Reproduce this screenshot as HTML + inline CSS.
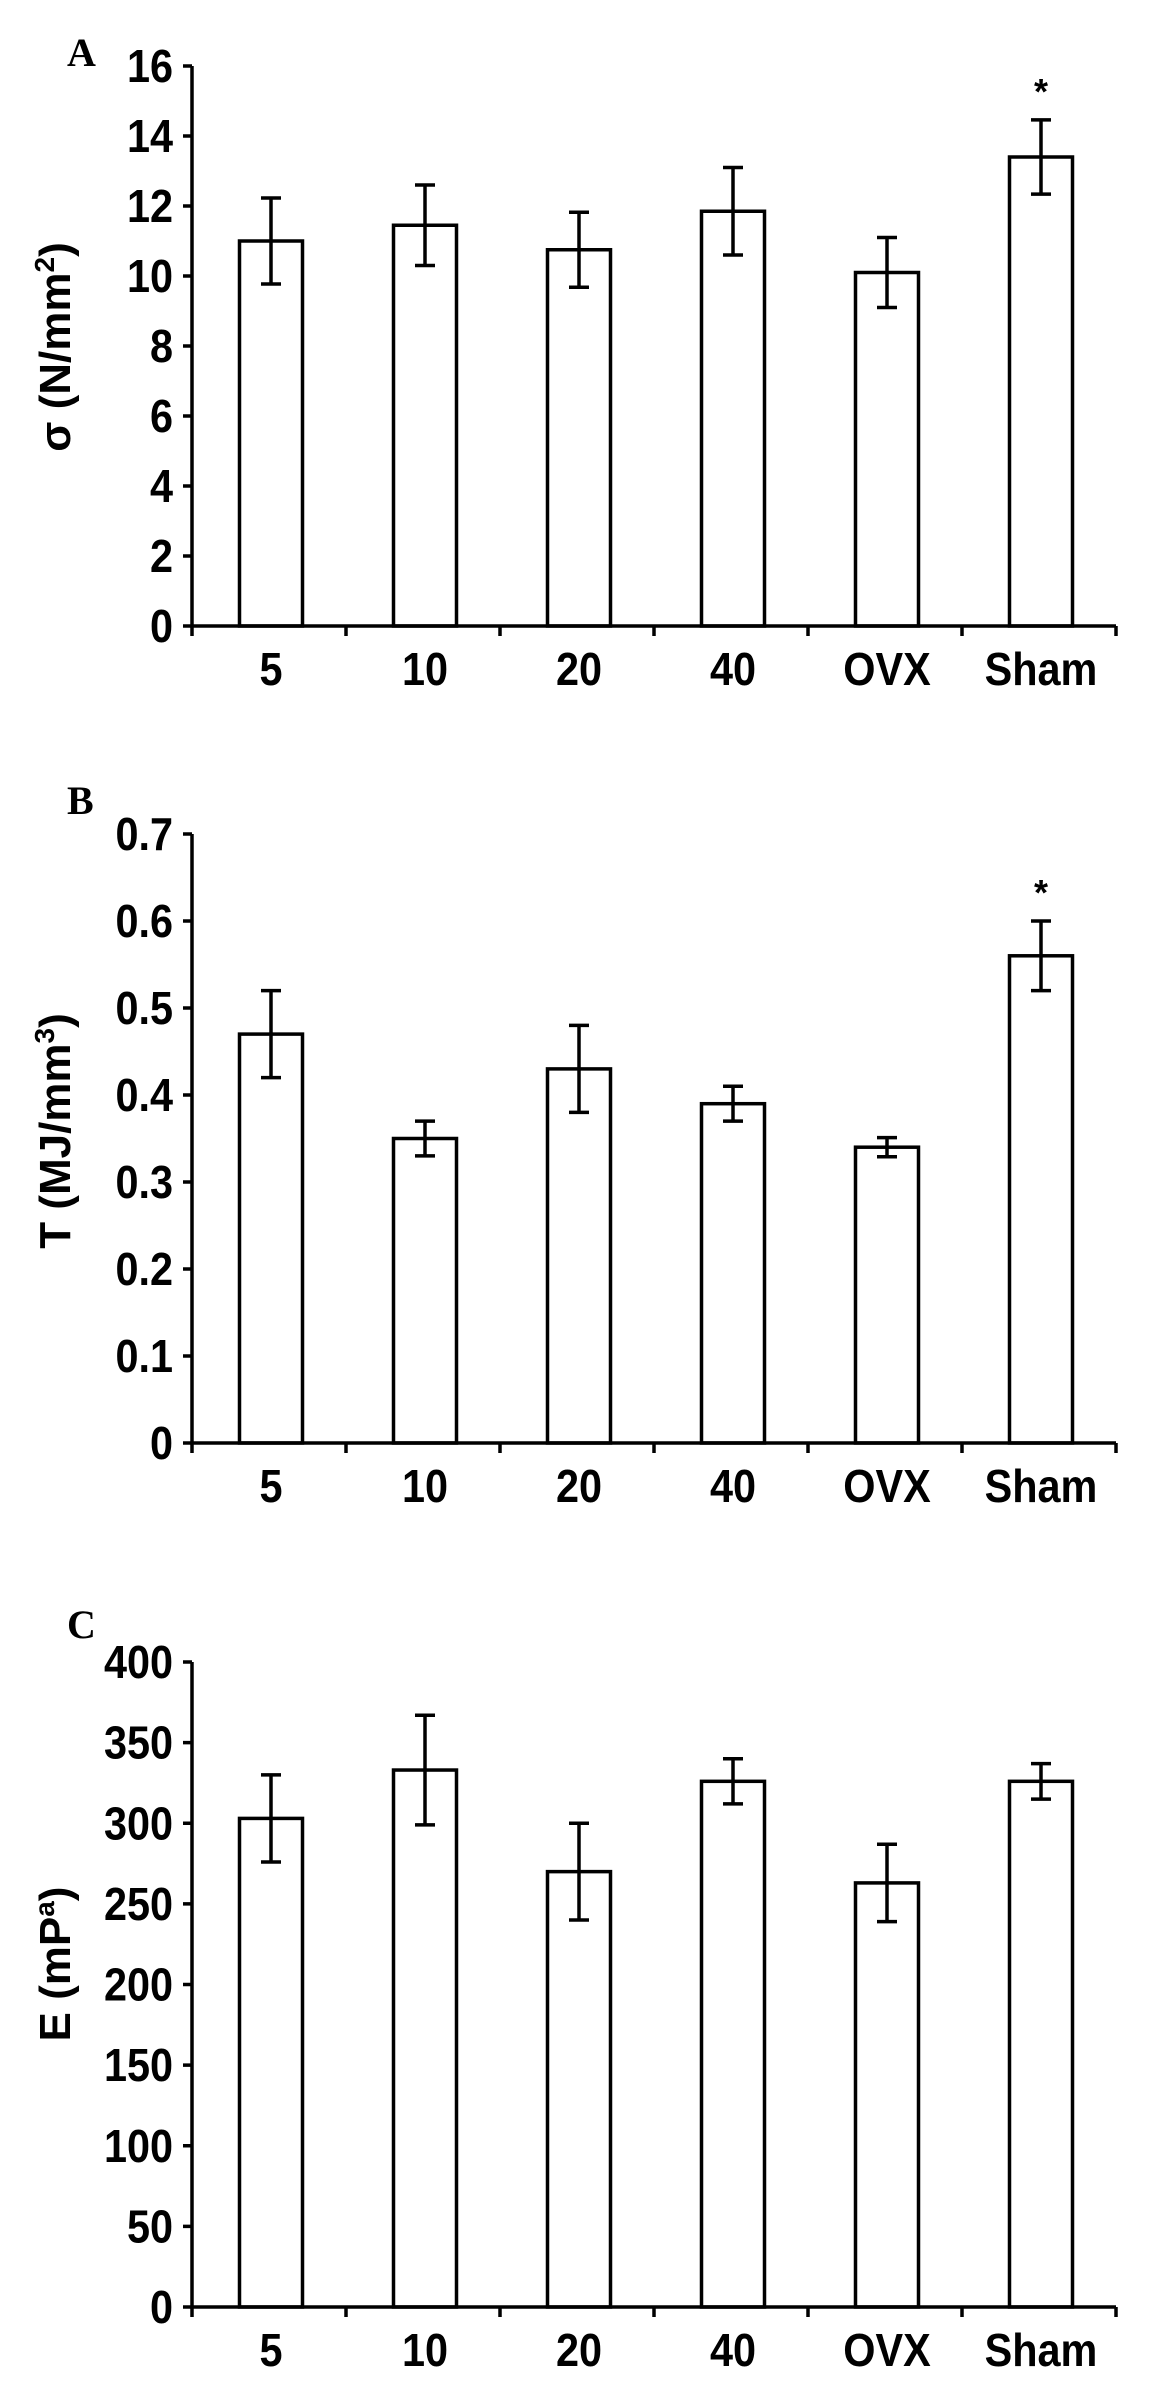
<!DOCTYPE html>
<html><head><meta charset="utf-8"><style>
html,body{margin:0;padding:0;background:#fff;}
svg{display:block;}
text{font-family:"Liberation Sans",Arial,sans-serif;font-weight:bold;fill:#000;}
.pl{font-family:"Liberation Serif",serif;font-weight:bold;}
</style></head><body>
<svg id="fig" width="1156" height="2392" viewBox="0 0 1156 2392" xmlns="http://www.w3.org/2000/svg"></svg>
<script>
const categories = ["5","10","20","40","OVX","Sham"];
const aValues = [11.0, 11.45, 10.75, 11.85, 10.1, 13.4];
const aErrors = [1.23, 1.15, 1.07, 1.25, 1.0, 1.06];
const aTicks = [0,2,4,6,8,10,12,14,16];
const aTickLabels = ["0","2","4","6","8","10","12","14","16"];
const bValues = [0.47, 0.35, 0.43, 0.39, 0.34, 0.56];
const bErrors = [0.05, 0.02, 0.05, 0.02, 0.011, 0.04];
const bTicks = [0,0.1,0.2,0.3,0.4,0.5,0.6,0.7];
const bTickLabels = ["0","0.1","0.2","0.3","0.4","0.5","0.6","0.7"];
const cValues = [303, 333, 270, 326, 263, 326];
const cErrors = [27, 34, 30, 14, 24, 11];
const cTicks = [0,50,100,150,200,250,300,350,400];
const cTickLabels = ["0","50","100","150","200","250","300","350","400"];
const aSig = [false,false,false,false,false,true];
const bSig = [false,false,false,false,false,true];
const cSig = [false,false,false,false,false,false];

const NS="http://www.w3.org/2000/svg";
const svg=document.getElementById('fig');
function mk(tag,attrs,parent){const e=document.createElementNS(NS,tag);for(const k in attrs)e.setAttribute(k,attrs[k]);(parent||svg).appendChild(e);return e;}

function panel(cfg){
  const g=mk('g',{});
  
  
  const x0=192, cw=154, bw=63;
  const y=v=>cfg.yBot-(v-cfg.min)/(cfg.max-cfg.min)*(cfg.yBot-cfg.yTop);
  const xc=i=>x0+79+cw*i;
  const pl=mk('text',{x:67,y:cfg.letterY,'font-size':40,class:'pl'},g);
  pl.textContent=cfg.letter;
  
  
  cfg.values.forEach((v,i)=>{
    const r=mk('rect',{x:xc(i)-bw/2,y:y(v),width:bw,height:cfg.yBot-y(v),fill:'#fff',stroke:'#000','stroke-width':3.5},g);
    
    
    const e=cfg.errors[i];
    const p=mk('path',{d:`M${xc(i)},${y(v+e)}V${y(v-e)}M${xc(i)-10},${y(v+e)}h20M${xc(i)-10},${y(v-e)}h20`,stroke:'#000','stroke-width':3.5,fill:'none'},g);
    
    
    if(cfg.sig[i]){
      const s=mk('text',{x:xc(i),y:y(v+e)-16,'font-size':36,'text-anchor':'middle'},g);
      s.textContent='*';
      
      
    }
  });
  const ax=mk('path',{d:`M${x0},${cfg.yTop}V${cfg.yBot}H${x0+cw*6}`,stroke:'#000','stroke-width':3.5,fill:'none'},g);
  
  
  cfg.ticks.forEach((t,i)=>{
    const tk=mk('path',{d:`M${x0-9},${y(t)}H${x0}`,stroke:'#000','stroke-width':3.5},g);
    
    
    const tx=mk('text',{transform:`translate(173,${y(t)+16}) scale(0.9,1)`,'font-size':46,'text-anchor':'end'},g);
    tx.textContent=cfg.tickLabels[i];
    
    
  });
  for(let i=0;i<=6;i++){
    const tk=mk('path',{d:`M${x0+cw*i},${cfg.yBot}v10`,stroke:'#000','stroke-width':3.5},g);
    
    
  }
  categories.forEach((c,i)=>{
    const tx=mk('text',{transform:`translate(${xc(i)},${cfg.yBot+59}) scale(0.9,1)`,'font-size':46,'text-anchor':'middle'},g);
    tx.textContent=c;
    
    
  });
  const yt=mk('text',{transform:`translate(70,${cfg.titleY}) rotate(-90)`,'font-size':44,'text-anchor':'middle'},g);
  
  
  yt.appendChild(document.createTextNode(cfg.title[0]));
  const sup=mk('tspan',{'font-size':28,dy:-16},yt);
  sup.textContent=cfg.title[1];
  const tail=mk('tspan',{dy:16},yt);
  tail.textContent=cfg.title[2];
}

panel({name:'panel-a-chart',letter:'A',letterY:66,yTop:66,yBot:626,min:0,max:16,values:aValues,errors:aErrors,sig:aSig,ticks:aTicks,tickLabels:aTickLabels,titleY:347,title:['σ (N/mm','2',')']});
panel({name:'panel-b-chart',letter:'B',letterY:814,yTop:834,yBot:1443,min:0,max:0.7,values:bValues,errors:bErrors,sig:bSig,ticks:bTicks,tickLabels:bTickLabels,titleY:1131,title:['T (MJ/mm','3',')']});
panel({name:'panel-c-chart',letter:'C',letterY:1638,yTop:1662,yBot:2307,min:0,max:400,values:cValues,errors:cErrors,sig:cSig,ticks:cTicks,tickLabels:cTickLabels,titleY:1964,title:['E (mP','a',')']});
</script>
</body></html>
